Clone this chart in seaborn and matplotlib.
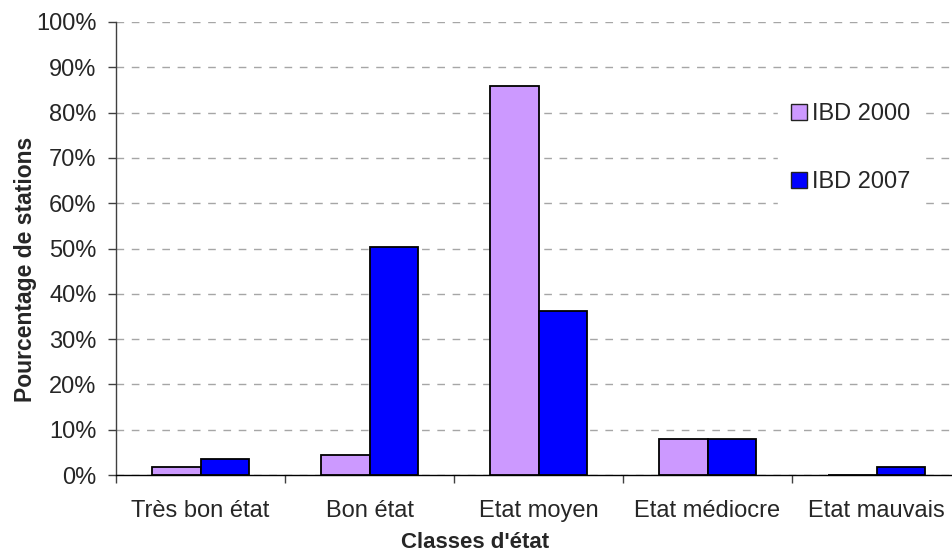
import matplotlib
matplotlib.use("Agg")
import matplotlib.pyplot as plt
import seaborn as sns
import pandas as pd
from matplotlib.ticker import PercentFormatter, FixedLocator, NullFormatter

categories = ["Très bon état", "Bon état", "Etat moyen", "Etat médiocre", "Etat mauvais"]
series_names = ["IBD 2000", "IBD 2007"]
ibd_2000 = [1.8, 4.4, 85.8, 8.0, 0.0]
ibd_2007 = [3.5, 50.4, 36.3, 8.0, 1.8]
colors = ["#CC99FF", "#0000FF"]

df = pd.DataFrame({
    "classe": categories * 2,
    "serie": [series_names[0]] * len(categories) + [series_names[1]] * len(categories),
    "pct": ibd_2000 + ibd_2007,
})

sns.set_style("white")
plt.rcParams["font.family"] = ["Liberation Sans", "DejaVu Sans"]

W, H = 953, 555
fig = plt.figure(figsize=(W / 100, H / 100), dpi=100)
ax = fig.add_axes([116 / W, 80 / H, 845 / W, 453 / H])

sns.barplot(data=df, x="classe", y="pct", hue="serie", palette=colors,
            width=0.574, edgecolor="black", linewidth=1.3, saturation=1,
            ax=ax, zorder=3)

ax.set_ylim(0, 100)
ax.set_xlim(-0.5, len(categories) - 0.5)
ax.set_yticks(range(0, 101, 10))
ax.yaxis.set_major_formatter(PercentFormatter(100, decimals=0))
ax.yaxis.grid(True, color="#A6A6A6", linestyle=(0, (5.5, 5.5)), linewidth=1.0, zorder=0)
ax.set_axisbelow(True)

for s in ["top", "right"]:
    ax.spines[s].set_visible(False)
ax.spines["left"].set_color("#404040")
ax.spines["left"].set_linewidth(1.0)
ax.spines["bottom"].set_color("black")
ax.spines["bottom"].set_linewidth(1.0)

ax.tick_params(axis="y", which="major", direction="out", length=6, width=1,
               color="#404040", labelsize=17, pad=8, left=True)
ax.tick_params(axis="x", which="major", length=0, labelsize=17, pad=18, bottom=True)
ax.xaxis.set_minor_locator(FixedLocator([i - 0.5 for i in range(len(categories) + 1)]))
ax.xaxis.set_minor_formatter(NullFormatter())
ax.tick_params(axis="x", which="minor", direction="out", length=6, width=1,
               color="#404040", bottom=True)

ax.set_xlabel("Classes d'état", fontsize=16, fontweight="bold")
ax.set_ylabel("Pourcentage de stations", fontsize=16.5, fontweight="bold")
ax.xaxis.set_label_coords(0.425, -0.125)
ax.yaxis.set_label_coords(-0.0935, 0.455)

leg = ax.legend(loc="upper left", bbox_to_anchor=(778 / W, 1 - 90 / H),
                bbox_transform=fig.transFigure, borderaxespad=0,
                fontsize=17, frameon=True, fancybox=False, framealpha=1,
                facecolor="white", edgecolor="white", handlelength=0.68,
                handleheight=0.68, handletextpad=0.22, labelspacing=1.97,
                borderpad=0.55, title=None)
for h in leg.legend_handles:
    h.set_edgecolor("#222222")
    h.set_linewidth(1.0)
leg.set_zorder(5)

fig.savefig("out.png", dpi=100)
